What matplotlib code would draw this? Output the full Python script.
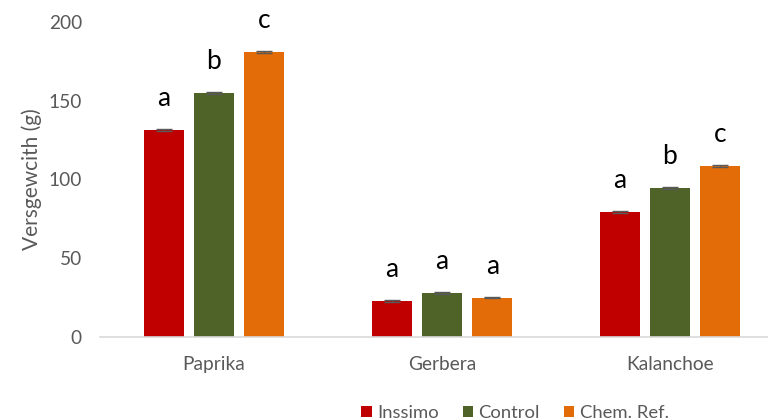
"""Versgewicht per gewas: Inssimo vs Control vs Chem. Ref."""
import numpy as np
import matplotlib
matplotlib.use("Agg")
import matplotlib.pyplot as plt

crops = ["Paprika", "Gerbera", "Kalanchoe"]
series = ["Inssimo", "Control", "Chem. Ref."]
inssimo = [131.5, 23, 79.5]
control = [155, 28, 94.5]
chem_ref = [181, 25, 108.5]
inssimo_err = [0.6, 0.5, 0.5]
control_err = [0.6, 0.6, 0.5]
chem_ref_err = [0.6, 0.5, 0.5]
letters_inssimo = ["a", "a", "a"]
letters_control = ["b", "a", "b"]
letters_chem = ["c", "a", "c"]

colors = ["#C00000", "#4F6228", "#E36C09"]
plt.rcParams["font.family"] = ["Lato", "DejaVu Sans"]


def main() -> None:
    fig = plt.figure(figsize=(7.68, 4.2), dpi=100)
    ax = fig.add_axes([100 / 768, (420 - 337) / 420, 684 / 768, 315 / 420])

    x = np.arange(len(crops))
    width = 0.175
    step = 0.221
    values = [inssimo, control, chem_ref]
    errors = [inssimo_err, control_err, chem_ref_err]
    letters = [letters_inssimo, letters_control, letters_chem]
    for i, (vals, errs, lab) in enumerate(zip(values, errors, letters)):
        pos = x + (i - 1) * step
        ax.bar(pos, vals, width, color=colors[i], label=series[i],
               yerr=errs, error_kw=dict(ecolor="#595959", elinewidth=1,
                                        capsize=6, capthick=1))
        for xp, v, t in zip(pos, vals, lab):
            ax.text(xp, v + 20, t, ha="center", va="center",
                    fontsize=19, color="black")

    ax.set_xlim(-0.5, 2.5)
    ax.set_ylim(0, 200)
    ax.set_yticks([0, 50, 100, 150, 200])
    ax.set_xticks(x)
    ax.set_xticklabels(crops)
    ax.tick_params(axis="both", length=0, labelsize=13.8, colors="#595959")
    ax.tick_params(axis="x", pad=14)
    ax.tick_params(axis="y", pad=13)
    for side in ["top", "right", "left"]:
        ax.spines[side].set_visible(False)
    ax.spines["bottom"].set_color("#D9D9D9")
    ax.spines["bottom"].set_linewidth(1.2)
    ax.set_ylabel("Versgewcith (g)", fontsize=15, color="#595959")
    ax.yaxis.set_label_coords(-58 / 684, 0.5)

    fig.legend(loc="center", bbox_to_anchor=(515 / 768, 1 - 413 / 420),
               ncol=3, frameon=False, fontsize=13.3, handlelength=0.55,
               handleheight=0.55, handletextpad=0.3, columnspacing=1.3,
               labelcolor="#595959")
    fig.savefig("out.png", dpi=100)


if __name__ == "__main__":
    main()
